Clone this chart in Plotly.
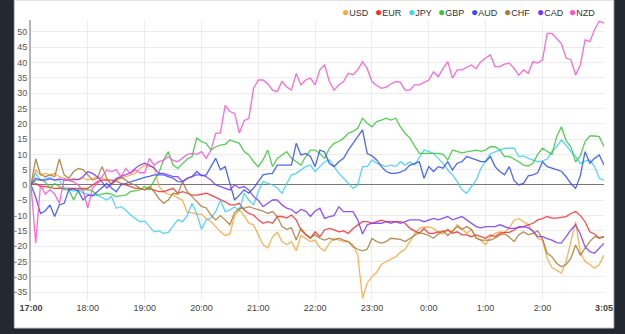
import pandas as pd
import plotly.graph_objects as go

# 5-minute samples from 17:00 to 3:05 (next day)
times = pd.date_range("2024-01-01 17:00", "2024-01-02 03:05", freq="5min")

currencies = ["USD", "EUR", "JPY", "GBP", "AUD", "CHF", "CAD", "NZD"]
colors = ["#ffa436", "#ff2b2b", "#3dcfff", "#35c935", "#2f4dff", "#a87a35", "#7b35ff", "#ff4fcf"]

usd = [0, 4.9, 3.3, 3.8, 3.3, 3.8, 2.7, 2.2, 1.6, 2.2, 1.6, 2.2, 1.6, 2.2, 2.7, 2.2, 1.6, 0.5, 1.6, 2.2,
       2.7, 3.3, 3.8, 5.4, 6.5, 6, 6, -0.5, -2.2, -3, -3.3, -4.2, -5, -9, -9, -9.5, -9.5, -11, -12, -13.6,
       -15.3, -16.5, -16, -10, -8, -10, -12.5, -13, -16, -19.5, -20.5, -17, -15.5, -18.5, -19.5, -18.5, -21.5, -16.5, -17.5, -18.5,
       -18, -20.5, -21.5, -19, -17.5, -18, -18.5, -18.5, -19.5, -23, -37, -32, -30, -28.5, -26, -25, -24.3, -23.5, -22, -21,
       -18.5, -16, -14.2, -13.8, -13.8, -14.2, -15.5, -16, -14.5, -15.5, -13, -14.5, -15.8, -14.5, -17, -18, -19.5, -17, -15.8, -15.3,
       -15.5, -14, -11.5, -11, -12, -13, -15.3, -17.4, -18, -24, -27, -28, -28.8, -25, -18, -12, -22, -25, -26, -27.2,
       -26, -22.9]

eur = [0, 0.5, -0.5, -0.5, -0.8, -1.1, -1, -1.1, -1.1, -1.1, -1.1, -1.1, -1.1, 0, 1, 1.6, 1.6, 1.6, 1.3, 0.5,
       0, -0.5, -1.1, -1.1, -1.6, -1.1, -1.6, -2.2, -2.2, -1.6, -1.1, -2.7, -2.2, -2.7, -3.3, -3.3, -3, -2.7, -3.3, -4,
       -4.9, -5.5, -6.5, -6.5, -6, -8.2, -9.3, -9.8, -11.4, -12.5, -12, -12.5, -10.3, -10.3, -10.8, -9.8, -11.4, -14.7, -16.3, -17.4,
       -15.3, -16.9, -14.7, -14.2, -14.7, -15.3, -15, -15.8, -14.2, -13, -12, -12, -12.5, -12, -11.5, -12, -12, -12, -12, -12.5,
       -14.2, -15, -15.8, -14.2, -15.8, -15.8, -15.3, -15.3, -14.7, -15.8, -15.3, -16.3, -16.3, -16.9, -16.3, -16.9, -17.4, -16.3, -16.9, -15.8,
       -15.5, -15.5, -14.7, -13.6, -13.6, -13, -12.5, -11.4, -11, -10.3, -10.8, -10.8, -10.5, -10.3, -9.3, -8.7, -10, -12, -15.3, -16,
       -17.4, -16.9]

jpy = [0, 3.8, 1.6, 2, 2.5, 1.6, 1.6, -1, -1.6, -2, -1.6, -2.7, -3, -3.5, -3.3, -4, -4.9, -3.8, -7.6, -7.1,
       -8.2, -9.8, -11, -12, -11.8, -13.6, -15.3, -15, -15.8, -15.5, -13.6, -11.4, -12, -10, -6, -9.3, -14.5, -11.4, -10.8, -8.7,
       -4.9, -8.7, -8.2, -7.1, -8.5, -2.7, -4.9, -6.5, -2.2, 1.1, 0.5, 0, -1, -2.7, 0.5, 3.3, 3.8, 4.9, 6, 6.5,
       4.4, 6, 7.6, 8.2, 6, 3.8, 2.2, 0.5, -1.1, 0, 6, 6, 8.2, 7.1, 6.5, 6, 6.5, 6, 7.6, 6.5,
       7.6, 6.5, 9, 11.4, 11, 10.3, 8.7, 7.1, 4.9, 3.3, 1.1, -1.6, -2.7, -0.5, 1.6, 5.4, 8, 10.3, 10.8, 11.4,
       12, 12, 12, 9.3, 9.5, 8.7, 8.2, 7.6, 7.8, 8.5, 11, 12.5, 14.7, 13, 10.9, 9.3, 7, 7.8, 8.2, 6,
       2.2, 1.6]

gbp = [0, 1.6, 1.8, 1, -1, 0.5, -0.5, -1.5, -1.6, -4.9, -1.6, -1.5, -1.5, -2, -3.3, -3, -2.7, -3, -3.8, -3.5,
       -3.3, -2.2, -2, -1.6, -0.5, -1.6, 1.5, 4, 8.2, 10.9, 6.5, 5.4, 7, 8.5, 9.3, 15.3, 14.2, 13.6, 11.4, 12.5,
       13, 13.3, 14.7, 14.2, 13.6, 10.9, 9.8, 7.6, 6, 8.2, 11.4, 6, 8.7, 9.8, 10.9, 8.7, 7.6, 6.5, 9.3, 11.4,
       11.4, 10.3, 8.7, 12, 13.6, 14.2, 15.3, 16.9, 17.5, 18.5, 21.8, 20.2, 19, 20.7, 21.2, 21.8, 21.2, 21.8, 19, 16.9,
       15.3, 13, 10.3, 10.3, 10.3, 10.3, 10.3, 10, 8.2, 11.4, 11, 10.5, 10.8, 11, 11.4, 11, 11.4, 12.5, 12.5, 11.4,
       9.3, 9.3, 8.5, 7.6, 6.5, 6.2, 7.1, 10, 12, 10.9, 10, 15.8, 19, 14.5, 12.5, 7.6, 9.5, 14.2, 16, 16,
       15.8, 12.5]

aud = [0, -4, -9.3, -8.5, -6.5, -10.3, -6.5, -6, -1.6, -1.3, -2, -4.9, -3.3, -3.5, -2.2, -1, 0.5, -1, -2.2, 0,
       0.5, 1, 1.5, 2.2, 2.5, 2.8, 3.3, 3.3, 3.3, 2.7, 2.2, 1.1, 1, 2.2, 2.7, 4.4, 3, 3.3, 6, 8.7,
       5, 6, 0.5, -4.9, -3.3, -1.6, -2.7, -1, 1.1, 3.3, 3.6, 3.8, 6.5, 6.5, 6.5, 6.5, 13.6, 9.8, 10.3, 9.3,
       6, 11.4, 10.8, 7, 6, 7.6, 8.7, 11.4, 13.6, 16, 18, 10.3, 9.5, 8.2, 6, 4.4, 3.8, 3.8, 4.2, 4.9,
       6.5, 7, 7.6, 2.2, 6, 4.4, 6, 5.5, 7.6, 4.9, 7.1, 7.6, 9.3, 8.8, 8.2, 7.6, 7.6, 9.3, 6, 4.4,
       3.3, 6, 1.5, 0, 0.5, 3, 3.3, 4, 7.6, 6, 5.5, 4.9, 4.5, 2.7, 0.5, -1.1, 3, 10.9, 7.1, 8.7,
       9.8, 6.5]

chf = [0, 8.5, 3.5, 2.7, 3.3, 2.7, 8.5, 3.3, 2.2, 4.4, 5.4, 5, 3.3, 1.6, 2.2, 6, 2.2, 0, 1.6, 2.5,
       1.6, 0.5, 0, -1.1, -1.6, -0.5, -2.2, -4.4, -6, -4.9, -2.7, -3, 1.1, -2.2, -3.8, -5.4, -7, -7.5, -9.8, -11.4,
       -10, -11.4, -13, -9, -7.6, -7.6, -7.1, -7.6, -8, -8.5, -9.3, -8.7, -10.3, -13.6, -14.5, -14, -18, -14.2, -16, -17.2,
       -16.3, -17.4, -18, -17.4, -18, -17.4, -18, -18.5, -20.2, -21, -21.5, -21, -17.5, -18.5, -19, -18.5, -17.4, -17.5, -17.8, -18.5,
       -17.5, -16.5, -15.5, -16, -16.5, -17.4, -16, -15, -16.5, -15, -13.6, -14.5, -13.6, -14.5, -17.4, -18, -18, -18, -17.4, -16.3,
       -16, -17, -18.5, -16.3, -15.3, -16.3, -15.8, -15, -17.6, -22.3, -23.4, -25.6, -26.7, -26, -24, -19.6, -22.9, -20.5, -18.5, -16.9,
       -17.2, -16.9]

cad = [0, 2.2, 1.6, 1.6, 2, 1.6, 2, 1.6, 1.6, 1.6, 1.8, 2.7, 4.4, 3.8, 2.7, 1, -1, 0.5, 2.2, 2.7,
       3.3, 4, 5.4, 6.5, 7.1, 6.5, 5.5, 3.8, 3.8, 3.3, 2.7, 2.7, 1.1, 2.2, 2.7, 3.3, 3.3, 2.7, 1.6, 0,
       -0.5, -1.1, -1.6, 0, -1, -0.5, -1.6, -3.8, -5, -7.1, -6, -4.9, -4.9, -6.5, -7.6, -8, -9.3, -8, -8.5, -10.3,
       -8.5, -7.6, -10.9, -10.3, -10, -7.1, -8.7, -8.7, -8.7, -11.4, -16, -13, -12.5, -12.5, -12.5, -12, -12.5, -12, -12.5, -12,
       -11.4, -11.4, -11.4, -12, -11.4, -10.9, -11.4, -10.9, -10.3, -11.4, -10.9, -10.3, -11.4, -12.5, -13.6, -14, -13.6, -13.6, -13.6, -13,
       -13.6, -14.2, -14.2, -14, -13.6, -14, -15, -16.9, -16.9, -17.5, -18, -18.8, -19, -16.9, -14.7, -13, -16, -20.2, -21.8, -22.3,
       -20.7, -19]

nzd = [0, -19, 0, -3, -1.5, -3, -6, 2, 1.5, 1, 0, -2, -7.5, -1, 0.5, 2.7, 4.9, 4.4, 5, 2.7,
       5.4, 3.8, 4.9, 4, 4, 8.7, 6.5, 7.6, 8, 9.3, 8, 7.6, 8.7, 10, 10.3, 10, 10.9, 8.7, 11.4, 16.9,
       17, 26, 24, 23.4, 17, 21, 21.8, 31.6, 34.3, 34.3, 33, 31, 30.5, 33.8, 32, 31, 36.4, 32.7, 34.3, 34.9,
       32.7, 37.6, 39.2, 33.8, 31, 32.7, 33.8, 36.5, 36, 37.6, 40.3, 38, 33.8, 32.5, 31.6, 32, 33, 33.8, 33.5, 31,
       31, 32.7, 32.7, 33.5, 34.3, 37, 35.4, 38, 40.3, 34.9, 37.6, 37.6, 38.5, 39.2, 38, 40.3, 41.5, 42.5, 38.7, 38.7,
       39.5, 39.8, 38.1, 35.9, 37.6, 36.5, 40.3, 39.8, 40.8, 49.5, 49.5, 47.9, 46.2, 41.4, 41, 35.9, 39.2, 47.4, 46.8, 50.7,
       53.5, 52.9]

series = [usd, eur, jpy, gbp, aud, chf, cad, nzd]

tick_times = pd.to_datetime(["2024-01-01 17:00", "2024-01-01 18:00", "2024-01-01 19:00", "2024-01-01 20:00",
                             "2024-01-01 21:00", "2024-01-01 22:00", "2024-01-01 23:00", "2024-01-02 00:00",
                             "2024-01-02 01:00", "2024-01-02 02:00", "2024-01-02 03:05"])
tick_labels = ["<b>17:00</b>", "18:00", "19:00", "20:00", "21:00", "22:00", "23:00", "0:00", "1:00", "2:00", "<b>3:05</b>"]

fig = go.Figure()
for name, vals, col in zip(currencies, series, colors):
    fig.add_trace(go.Scatter(x=times, y=vals, mode="lines", name=name,
                             line=dict(color=col, width=1.3), opacity=0.85,
                             showlegend=False, hoverinfo="skip"))

# plot area in pixels: x 25..609, y 20..301
L, R, T, B = 25, 609, 20, 301
W, H = R - L, B - T

def px(x):
    return (x - L) / W

def py(y):
    return (B - y) / H

# white panel inside dark frame
fig.add_shape(type="rect", xref="paper", yref="paper", layer="below",
              x0=px(8), x1=px(619), y0=py(328), y1=py(0),
              fillcolor="white", line=dict(color="#c8c8c8", width=1))

# legend built from annotations
leg_x = [340, 374, 407, 438, 471, 505, 539, 571]
for name, col, lx in zip(currencies, colors, leg_x):
    fig.add_annotation(xref="paper", yref="paper", x=px(lx), y=py(12.5),
                       xanchor="left", yanchor="middle", showarrow=False,
                       text=f'<span style="color:{col};font-size:12px">●</span>{name}',
                       font=dict(size=9, color="#333", family="Liberation Sans, Arial"))

fig.update_layout(
    width=625, height=334,
    margin=dict(l=L, r=625 - R, t=T, b=334 - B),
    paper_bgcolor="#232831", plot_bgcolor="white",
    font=dict(family="Liberation Sans, Arial", size=9, color="#555"),
    showlegend=False,
)
fig.update_xaxes(range=[times[0], times[-1]], tickvals=tick_times, ticktext=tick_labels,
                 showgrid=True, gridcolor="#ececec", gridwidth=1, zeroline=False,
                 showline=False, ticks="", tickfont=dict(size=9, color="#444"))
fig.update_yaxes(range=[-37.9, 53.9], dtick=5, tick0=0, showgrid=True, gridcolor="#ececec",
                 zeroline=True, zerolinecolor="#777", zerolinewidth=1,
                 showline=True, linecolor="#b5b5b5", linewidth=2, ticks="",
                 tickfont=dict(size=9, color="#555"))

fig.write_html("out.html")
